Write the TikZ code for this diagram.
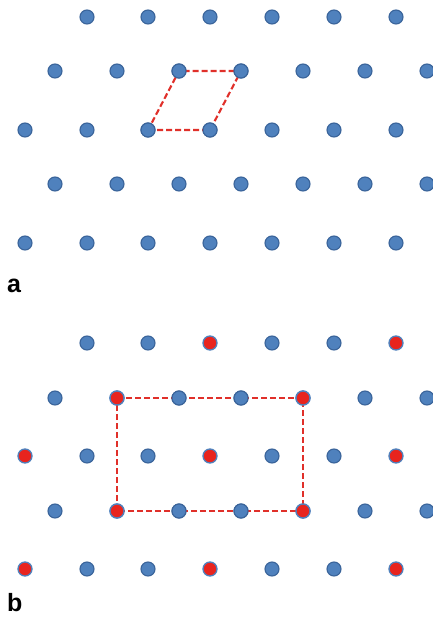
\documentclass[tikz,border=0pt]{standalone}
\usepackage{fontspec}
\setmainfont{Liberation Sans}
\definecolor{dotblue}{HTML}{4F81BD}
\definecolor{dotedge}{HTML}{3A649A}
\definecolor{dotred}{HTML}{E8241E}
\definecolor{linered}{HTML}{E0302A}
\begin{document}
\begin{tikzpicture}[x=1pt,y=-1pt,
  bdot/.style={circle,fill=dotblue,draw=dotedge,line width=1.1pt,minimum size=14pt,inner sep=0pt},
  rdot/.style={circle,fill=dotred,draw=dotblue,line width=1.3pt,minimum size=14pt,inner sep=0pt},
  cell/.style={draw=linered,line width=2.1pt,dash pattern=on 6pt off 3pt},
  lbl/.style={font=\fontsize{25}{25}\selectfont\bfseries,anchor=base west,inner sep=0pt}]
\useasboundingbox (0,0) rectangle (432,617);
% panel a
\foreach \x [count=\c] in {87,148,210,272,334,396} \node[bdot] (a1-\c) at (\x,17) {};
\foreach \y [count=\r from 3] in {130,243} {
  \foreach \x [count=\c] in {25,87,148,210,272,334,396} \node[bdot] (a\r-\c) at (\x,\y) {};
}
\foreach \y in {71,184} {
  \foreach \x in {55,117,179,241,303,365,427} \node[bdot] (ae-\x-\y) at (\x,\y) {};
}
% panel b
\foreach \x [count=\c] in {87,148,210,272,334,396} {
  \ifnum\x=210 \node[rdot] (b1-\c) at (\x,343) {};
  \else\ifnum\x=396 \node[rdot] (b1-\c) at (\x,343) {};
  \else \node[bdot] (b1-\c) at (\x,343) {}; \fi\fi
}
\foreach \y in {456,569} {
  \foreach \x in {25,87,148,210,272,334,396} {
    \ifnum\x=25 \node[rdot] (bo-\x-\y) at (\x,\y) {};
    \else\ifnum\x=210 \node[rdot] (bo-\x-\y) at (\x,\y) {};
    \else\ifnum\x=396 \node[rdot] (bo-\x-\y) at (\x,\y) {};
    \else \node[bdot] (bo-\x-\y) at (\x,\y) {}; \fi\fi\fi
  }
}
\foreach \y in {398,511} {
  \foreach \x in {55,117,179,241,303,365,427} {
    \ifnum\x=117 \node[rdot] (be-\x-\y) at (\x,\y) {};
    \else\ifnum\x=303 \node[rdot] (be-\x-\y) at (\x,\y) {};
    \else \node[bdot] (be-\x-\y) at (\x,\y) {}; \fi\fi
  }
}
% cells
\draw[cell] (a3-3.center) -- (a3-4.center) -- (ae-241-71.center) -- (ae-179-71.center) -- cycle;
\draw[cell] (be-117-398.center) -- (be-303-398.center) -- (be-303-511.center) -- (be-117-511.center) -- cycle;
% redraw dots on the cell corners so they sit on top
\node[bdot] at (a3-3) {};
\node[bdot] at (a3-4) {};
\node[bdot] at (ae-241-71) {};
\node[bdot] at (ae-179-71) {};
\node[rdot] at (be-117-398) {};
\node[rdot] at (be-303-398) {};
\node[rdot] at (be-117-511) {};
\node[rdot] at (be-303-511) {};
\node[bdot] at (be-179-398) {};
\node[bdot] at (be-241-398) {};
\node[bdot] at (be-179-511) {};
\node[bdot] at (be-241-511) {};
% labels
\node[lbl] (la) at (7,292) {a};
\node[lbl] (lb) at (7,611) {b};
\end{tikzpicture}
\end{document}
